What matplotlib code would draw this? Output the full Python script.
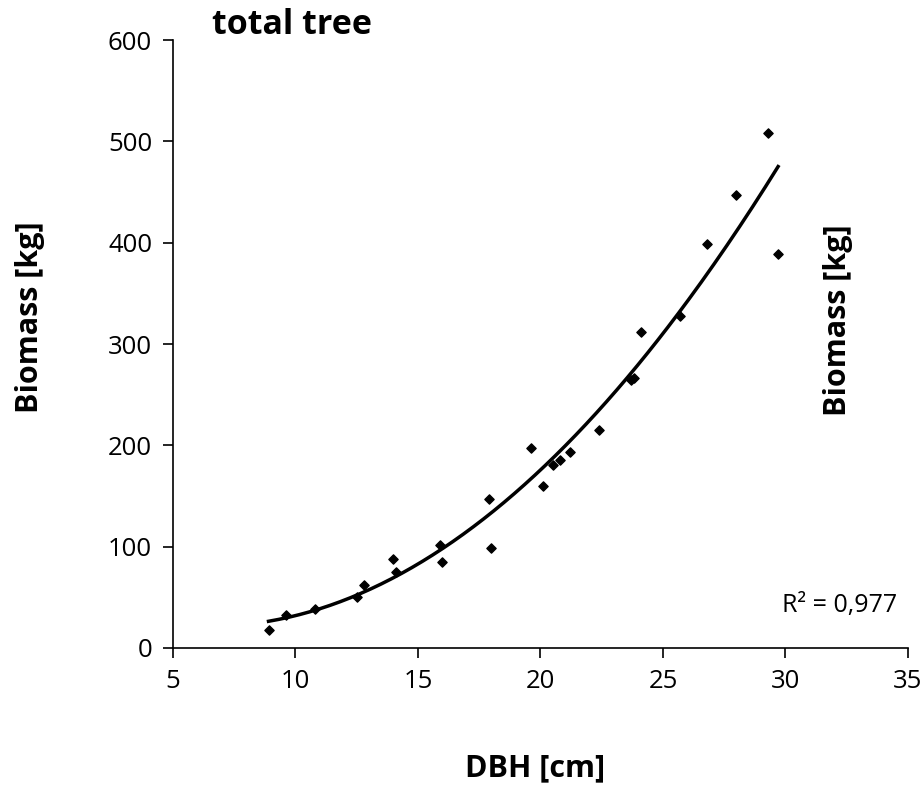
import numpy as np
import matplotlib.pyplot as plt

plt.rcParams['font.family'] = ['Open Sans', 'DejaVu Sans']

# DBH [cm] and total tree biomass [kg]
dbh = [8.9, 9.6, 10.8, 12.5, 12.8, 14.0, 14.1, 15.9, 16.0, 17.9, 18.0,
       19.6, 20.1, 20.5, 20.8, 21.2, 22.4, 23.7, 23.8, 24.1, 25.7,
       26.8, 28.0, 29.3, 29.7]
biomass = [18, 33, 38, 50, 62, 88, 75, 102, 85, 147, 99,
           197, 160, 181, 186, 193, 215, 264, 266, 312, 328,
           399, 447, 508, 389]

x_ticks = [5, 10, 15, 20, 25, 30, 35]
y_ticks = [0, 100, 200, 300, 400, 500, 600]

# second order trendline
coef = np.polyfit(dbh, biomass, 2)
xs = np.linspace(min(dbh), max(dbh), 200)
ys = np.polyval(coef, xs)

fig = plt.figure(figsize=(9.23, 7.88), dpi=100)
ax = fig.add_axes([0.1874, 0.1777, 0.7963, 0.7715])

ax.scatter(dbh, biomass, marker='D', s=22, color='black', zorder=3)
ax.plot(xs, ys, color='black', lw=2.5)

ax.set_xlim(5, 35)
ax.set_ylim(0, 600)
ax.set_xticks(x_ticks)
ax.set_yticks(y_ticks)
ax.tick_params(labelsize=18.5, direction='out', length=7, width=1.2, pad=8)
for s in ['top', 'right']:
    ax.spines[s].set_visible(False)
for s in ['left', 'bottom']:
    ax.spines[s].set_linewidth(1.2)

fig.text(0.2297, 0.968, 'total tree', fontsize=24.5, fontweight='bold',
         ha='left', va='center')
fig.text(0.58, 0.025, 'DBH [cm]', fontsize=22, fontweight='bold',
         ha='center', va='center')
fig.text(0.033, 0.598, 'Biomass [kg]', fontsize=22, fontweight='bold',
         rotation=90, ha='center', va='center')
fig.text(0.908, 0.594, 'Biomass [kg]', fontsize=22, fontweight='bold',
         rotation=90, ha='center', va='center')
fig.text(0.9725, 0.231, 'R² = 0,977', fontsize=18, ha='right', va='center')

fig.savefig('out.png', dpi=100)
